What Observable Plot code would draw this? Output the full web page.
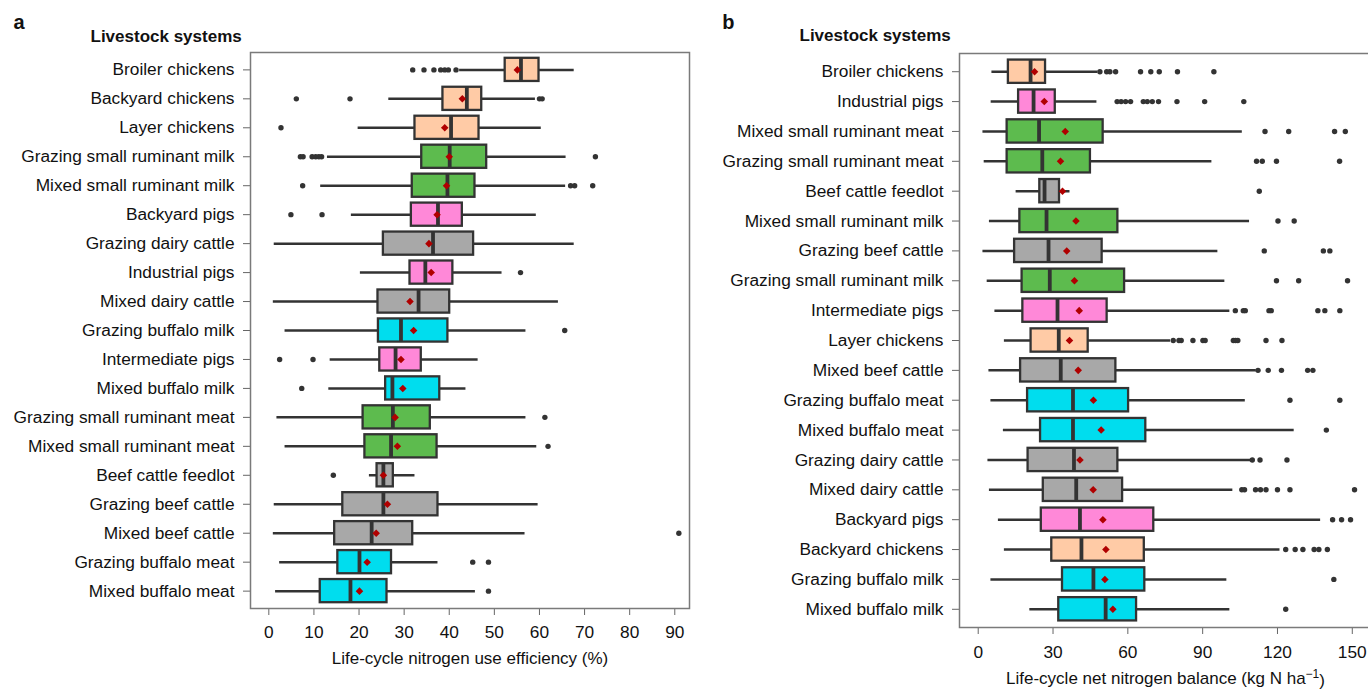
<!DOCTYPE html>
<html><head><meta charset="utf-8">
<script src="https://cdn.jsdelivr.net/npm/d3@7"></script>
<script src="https://cdn.jsdelivr.net/npm/@observablehq/plot@0.6"></script>
<style>
html,body{margin:0;padding:0;background:#fff;overflow:hidden;}
#wrap{position:relative;width:1368px;height:689px;overflow:hidden;}
#pa{position:absolute;left:0;top:0;width:700px;}
#pb{position:absolute;left:710px;top:0;width:670px;}
#pa svg,#pb svg{max-width:none !important;}
</style></head><body><div id="wrap"><div id="pa"></div><div id="pb"></div></div>
<script>
// ---------- Panel a: life-cycle nitrogen use efficiency (%) ----------
const namesA = ["Broiler chickens","Backyard chickens","Layer chickens","Grazing small ruminant milk","Mixed small ruminant milk","Backyard pigs","Grazing dairy cattle","Industrial pigs","Mixed dairy cattle","Grazing buffalo milk","Intermediate pigs","Mixed buffalo milk","Grazing small ruminant meat","Mixed small ruminant meat","Beef cattle feedlot","Grazing beef cattle","Mixed beef cattle","Grazing buffalo meat","Mixed buffalo meat"];
const loA   = [42.3,26.6,19.8,13.0,11.5,18.3,1.2,20.3,1.0,3.6,13.6,13.3,1.8,3.6,22.3,1.2,1.0,2.4,1.5];
const q1A   = [52.4,38.6,32.4,33.9,31.8,31.6,25.4,31.3,24.2,24.3,24.6,25.9,20.9,21.3,24.0,16.4,14.6,15.3,11.4];
const medA  = [55.9,43.9,40.4,40.1,39.6,37.5,36.4,34.7,33.2,29.3,28.1,27.4,27.5,27.1,25.4,25.4,22.8,20.1,18.1];
const q3A   = [59.9,47.2,46.6,48.3,45.7,42.9,45.4,40.8,40.1,39.7,33.8,37.9,35.8,37.3,27.6,37.5,31.9,27.2,26.2];
const hiA   = [67.7,59.1,60.4,65.9,65.8,59.3,67.7,51.7,64.2,57.0,46.4,43.7,57.0,59.4,32.4,59.7,56.8,37.5,45.8];
const meanA = [55.1,42.9,39.0,40.0,39.4,37.3,35.5,36.0,31.3,32.1,29.3,29.7,28.0,28.5,25.4,26.3,23.8,21.8,20.1];
const outA  = [[31.9,34.4,36.6,38.1,39.0,39.8,41.5],[6.1,18.0,60.0,60.6],[2.7],[7.0,7.6,9.6,10.4,11.1,11.7,72.4],[7.5,66.9,67.8,71.8],[4.9,11.8],[],[55.8],[],[65.6],[2.4,9.8],[7.3],[61.2],[61.9],[14.3],[],[90.9],[45.2,48.7],[48.7]];
const ticksA = [0,10,20,30,40,50,60,70,80,90];
const titleA = "Life-cycle nitrogen use efficiency (%)";

// ---------- Panel b: life-cycle net nitrogen balance (kg N ha-1) ----------
const namesB = ["Broiler chickens","Industrial pigs","Mixed small ruminant meat","Grazing small ruminant meat","Beef cattle feedlot","Mixed small ruminant milk","Grazing beef cattle","Grazing small ruminant milk","Intermediate pigs","Layer chickens","Mixed beef cattle","Grazing buffalo meat","Mixed buffalo meat","Grazing dairy cattle","Mixed dairy cattle","Backyard pigs","Backyard chickens","Grazing buffalo milk","Mixed buffalo milk"];
const loB   = [5.5,5.2,1.9,2.4,15.2,4.5,1.9,3.6,6.7,10.5,4.3,5.1,10.1,3.9,4.5,8.1,10.5,5.1,20.7];
const q1B   = [12.1,16.2,11.6,11.6,24.7,16.7,14.6,17.6,17.9,21.2,17.0,19.8,25.0,20.0,26.1,25.3,29.5,33.8,32.3];
const medB  = [21.0,22.2,24.4,25.7,26.6,27.4,28.2,28.7,31.8,32.3,33.1,38.0,38.0,38.4,39.3,40.8,41.4,46.2,51.1];
const q3B   = [27.0,30.9,50.1,45.0,32.6,56.0,49.7,58.7,51.7,44.1,55.2,60.3,67.2,56.0,57.9,70.4,66.6,66.8,63.5];
const hiB   = [48.0,47.6,105.9,93.7,36.8,108.8,96.1,98.9,100.9,77.1,111.5,107.1,126.7,109.5,102.1,137.3,121.0,99.7,100.9];
const meanB = [22.6,26.5,34.9,33.0,33.8,39.2,35.5,38.6,40.5,36.6,40.1,46.2,49.3,40.8,46.1,50.0,51.2,50.8,54.0];
const outB  = [[48.8,51.5,52.8,55.1,65.1,69.2,72.6,79.9,94.5],[55.7,57.3,59.1,61.1,66.2,67.8,69.8,72.3,79.7,90.8,106.5],[115.0,124.5,142.9,147.2],[111.6,113.9,119.6,144.9],[112.7],[120.2,126.7],[114.7,138.4,141.0],[119.6,128.5,148.1],[103.1,106.3,107.1,116.6,117.5,136.2,139.0,145.0],[78.2,80.5,81.4,86.1,90.1,91.0,102.3,103.2,104.1,115.4,121.8],[112.2,116.3,121.6,132.1,134.2],[125.0,145.0],[139.6],[109.9,113.0,123.8],[105.7,106.8,111.2,113.2,115.4,120.0,125.0,150.9],[142.1,145.7,149.3],[123.3,127.1,130.2,134.7,136.6,140.0],[142.6],[123.3]];
const ticksB = [0,30,60,90,120,150];
const titleB = "Life-cycle net nitrogen balance (kg N ha−1)";

const speciesDomain = ["chickens","small ruminant","pigs","cattle","buffalo"];
const speciesColors = ["#FFCBA6","#5DBB4E","#FF88D8","#A8A8A8","#00DDEE"];
function speciesOf(n){
  if (n.includes("chickens")) return "chickens";
  if (n.includes("small ruminant")) return "small ruminant";
  if (n.includes("pigs")) return "pigs";
  if (n.includes("buffalo")) return "buffalo";
  return "cattle";
}

const FONT = "'Liberation Sans', Arial, Helvetica, sans-serif";

function panel(c){
  const rows = c.names.map((n,i)=>({name:n, species:speciesOf(n), lo:c.lo[i], q1:c.q1[i], med:c.med[i], q3:c.q3[i], hi:c.hi[i], mean:c.mean[i]}));
  const outs = c.names.flatMap((n,i)=>c.outs[i].map(v=>({name:n, v})));
  const svg = Plot.plot({
    width:c.width, height:c.height,
    marginLeft:c.ml, marginRight:c.mr, marginTop:c.mt, marginBottom:c.mb,
    style:{fontFamily:FONT, fontSize:"17.3px", color:"#111", background:"white", overflow:"visible", maxWidth:"none"},
    x:{domain:c.xDomain, ticks:c.ticks, tickSize:7, tickPadding:c.xtp, label:null},
    y:{domain:c.names, paddingInner:c.pad, paddingOuter:c.pad, round:false, tickSize:7, tickPadding:9, label:null},
    color:{domain:speciesDomain, range:speciesColors},
    marks:[
      Plot.ruleY(rows, {y:"name", x1:"lo", x2:"hi", stroke:"#333", strokeWidth:2.5}),
      Plot.barX(rows, {y:"name", x1:"q1", x2:"q3", fill:"species", stroke:"#333", strokeWidth:2.3}),
      Plot.tickX(rows, {y:"name", x:"med", stroke:"#333", strokeWidth:3.8}),
      Plot.dot(outs, {y:"name", x:"v", r:2.7, fill:"#333", stroke:null}),
      Plot.dot(rows, {y:"name", x:"mean", symbol:"diamond2", r:3.4, fill:"#b00000", stroke:null}),
      Plot.frame({stroke:"#7a7a7a", strokeWidth:1.5}),
      Plot.text([c.title], {frameAnchor:"bottom", dy:c.titleDy, lineAnchor:"bottom", fontSize:17, fill:"#111"}),
      Plot.text(["Livestock systems"], {frameAnchor:"top-left", dx:c.headDx, dy:c.headDy, textAnchor:"start", lineAnchor:"bottom", fontWeight:"bold", fontSize:17, fill:"#111"}),
      Plot.text([c.letter], {frameAnchor:"top-left", dx:c.letDx, dy:c.letDy, textAnchor:"start", lineAnchor:"bottom", fontWeight:"bold", fontSize:20, fill:"#111"})
    ]
  });
  d3.select(svg).selectAll('[aria-label$="-axis tick"]').attr("stroke", "#666");
  return svg;
}

const svgA = panel({names:namesA, lo:loA, q1:q1A, med:medA, q3:q3A, hi:hiA, mean:meanA, outs:outA,
  width:700, height:678, ml:250, mr:11, mt:52, mb:70, xDomain:[-4.06,93.26], ticks:ticksA, xtp:10, pad:0.2,
  title:titleA, titleDy:55, letter:"a", headDx:-160, headDy:-10.3, letDx:-237, letDy:-24});
document.getElementById("pa").appendChild(svgA);

const svgB = panel({names:namesB, lo:loB, q1:q1B, med:medB, q3:q3B, hi:hiB, mean:meanB, outs:outB,
  width:670, height:689, ml:249, mr:9, mt:53, mb:62, xDomain:[-7.5,157.7], ticks:ticksB, xtp:11, pad:0.22,
  title:titleB, titleDy:56, letter:"b", headDx:-160, headDy:-12.3, letDx:-237.3, letDy:-25});
document.getElementById("pb").appendChild(svgB);

// superscript for the unit in panel b's axis title
d3.select(svgB).selectAll("text").filter(function(){ return this.textContent === titleB; }).each(function(){
  const t = d3.select(this);
  t.text("Life-cycle net nitrogen balance (kg N ha");
  t.append("tspan").attr("dy", "-0.5em").attr("font-size", "12px").text("−1");
  t.append("tspan").attr("dy", "0.5em").text(")");
});
</script>
</body></html>
